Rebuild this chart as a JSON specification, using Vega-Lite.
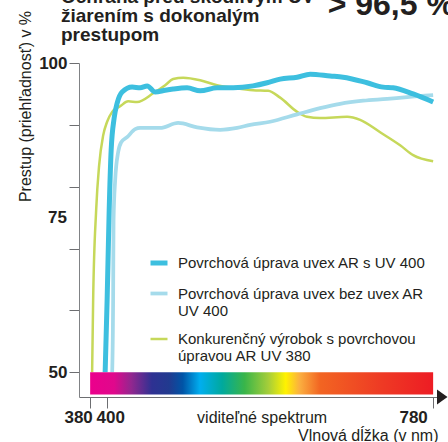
{
  "$schema": "https://vega.github.io/schema/vega-lite/v6.json",
  "width": 361,
  "height": 334,
  "autosize": {"type": "none"},
  "padding": {"left": 79, "top": 63, "right": 8, "bottom": 45},
  "background": "white",
  "config": {"view": {"stroke": null}, "font": "Liberation Sans"},
  "title": {
    "text": ["Ochrana pred škodlivým UV", "žiarením s dokonalým", "prestupom"],
    "anchor": "start",
    "frame": "group",
    "fontSize": 19,
    "fontWeight": "bold",
    "lineHeight": 19,
    "color": "#231f20",
    "font": "Liberation Sans",
    "offset": 0,
    "dx": -18,
    "dy": 56
  },
  "datasets": {
    "curves": [
      {"series": "Konkurenčný výrobok s povrchovou úpravou AR UV 380", "nm": 382.3, "t": 50},
      {"series": "Konkurenčný výrobok s povrchovou úpravou AR UV 380", "nm": 383.5, "t": 61.7},
      {"series": "Konkurenčný výrobok s povrchovou úpravou AR UV 380", "nm": 387, "t": 76.2},
      {"series": "Konkurenčný výrobok s povrchovou úpravou AR UV 380", "nm": 390.5, "t": 83.5},
      {"series": "Konkurenčný výrobok s povrchovou úpravou AR UV 380", "nm": 395.2, "t": 88.3},
      {"series": "Konkurenčný výrobok s povrchovou úpravou AR UV 380", "nm": 399.8, "t": 90.5},
      {"series": "Konkurenčný výrobok s povrchovou úpravou AR UV 380", "nm": 405.7, "t": 92.1},
      {"series": "Konkurenčný výrobok s povrchovou úpravou AR UV 380", "nm": 415, "t": 93.0},
      {"series": "Konkurenčný výrobok s povrchovou úpravou AR UV 380", "nm": 424.3, "t": 93.8},
      {"series": "Konkurenčný výrobok s povrchovou úpravou AR UV 380", "nm": 434.8, "t": 93.7},
      {"series": "Konkurenčný výrobok s povrchovou úpravou AR UV 380", "nm": 453.5, "t": 95.1},
      {"series": "Konkurenčný výrobok s povrchovou úpravou AR UV 380", "nm": 467.5, "t": 96.4},
      {"series": "Konkurenčný výrobok s povrchovou úpravou AR UV 380", "nm": 476.8, "t": 97.4},
      {"series": "Konkurenčný výrobok s povrchovou úpravou AR UV 380", "nm": 488.5, "t": 97.6},
      {"series": "Konkurenčný výrobok s povrchovou úpravou AR UV 380", "nm": 508.3, "t": 97.2},
      {"series": "Konkurenčný výrobok s povrchovou úpravou AR UV 380", "nm": 528, "t": 96.4},
      {"series": "Konkurenčný výrobok s povrchovou úpravou AR UV 380", "nm": 546.8, "t": 96.0},
      {"series": "Konkurenčný výrobok s povrchovou úpravou AR UV 380", "nm": 570, "t": 95.6},
      {"series": "Konkurenčný výrobok s povrchovou úpravou AR UV 380", "nm": 587.6, "t": 95.5},
      {"series": "Konkurenčný výrobok s povrchovou úpravou AR UV 380", "nm": 601.6, "t": 94.4},
      {"series": "Konkurenčný výrobok s povrchovou úpravou AR UV 380", "nm": 621.4, "t": 92.1},
      {"series": "Konkurenčný výrobok s povrchovou úpravou AR UV 380", "nm": 633, "t": 91.3},
      {"series": "Konkurenčný výrobok s povrchovou úpravou AR UV 380", "nm": 648, "t": 91.1},
      {"series": "Konkurenčný výrobok s povrchovou úpravou AR UV 380", "nm": 679.7, "t": 91.3},
      {"series": "Konkurenčný výrobok s povrchovou úpravou AR UV 380", "nm": 694.9, "t": 90.8},
      {"series": "Konkurenčný výrobok s povrchovou úpravou AR UV 380", "nm": 718.2, "t": 88.8},
      {"series": "Konkurenčný výrobok s povrchovou úpravou AR UV 380", "nm": 741.5, "t": 86.7},
      {"series": "Konkurenčný výrobok s povrchovou úpravou AR UV 380", "nm": 756.7, "t": 85.1},
      {"series": "Konkurenčný výrobok s povrchovou úpravou AR UV 380", "nm": 780, "t": 84.1},
      {"series": "Povrchová úprava uvex bez uvex AR UV 400", "nm": 405.7, "t": 50},
      {"series": "Povrchová úprava uvex bez uvex AR UV 400", "nm": 406.8, "t": 61.7},
      {"series": "Povrchová úprava uvex bez uvex AR UV 400", "nm": 407.3, "t": 74.6},
      {"series": "Povrchová úprava uvex bez uvex AR UV 400", "nm": 409.2, "t": 81.1},
      {"series": "Povrchová úprava uvex bez uvex AR UV 400", "nm": 412.7, "t": 85.6},
      {"series": "Povrchová úprava uvex bez uvex AR UV 400", "nm": 416.2, "t": 87.2},
      {"series": "Povrchová úprava uvex bez uvex AR UV 400", "nm": 423.1, "t": 88.0},
      {"series": "Povrchová úprava uvex bez uvex AR UV 400", "nm": 432.5, "t": 89.3},
      {"series": "Povrchová úprava uvex bez uvex AR UV 400", "nm": 438.3, "t": 89.5},
      {"series": "Povrchová úprava uvex bez uvex AR UV 400", "nm": 461.6, "t": 89.5},
      {"series": "Povrchová úprava uvex bez uvex AR UV 400", "nm": 482.6, "t": 90.3},
      {"series": "Povrchová úprava uvex bez uvex AR UV 400", "nm": 504.8, "t": 89.6},
      {"series": "Povrchová úprava uvex bez uvex AR UV 400", "nm": 531.6, "t": 89.2},
      {"series": "Povrchová úprava uvex bez uvex AR UV 400", "nm": 551.4, "t": 89.5},
      {"series": "Povrchová úprava uvex bez uvex AR UV 400", "nm": 566.6, "t": 90.0},
      {"series": "Povrchová úprava uvex bez uvex AR UV 400", "nm": 589.9, "t": 90.5},
      {"series": "Povrchová úprava uvex bez uvex AR UV 400", "nm": 621.4, "t": 91.7},
      {"series": "Povrchová úprava uvex bez uvex AR UV 400", "nm": 648.2, "t": 92.7},
      {"series": "Povrchová úprava uvex bez uvex AR UV 400", "nm": 671.5, "t": 93.4},
      {"series": "Povrchová úprava uvex bez uvex AR UV 400", "nm": 698.4, "t": 93.9},
      {"series": "Povrchová úprava uvex bez uvex AR UV 400", "nm": 726.4, "t": 94.2},
      {"series": "Povrchová úprava uvex bez uvex AR UV 400", "nm": 749.7, "t": 94.5},
      {"series": "Povrchová úprava uvex bez uvex AR UV 400", "nm": 780, "t": 94.8},
      {"series": "Povrchová úprava uvex AR s UV 400", "nm": 397.5, "t": 50},
      {"series": "Povrchová úprava uvex AR s UV 400", "nm": 399.8, "t": 61.7},
      {"series": "Povrchová úprava uvex AR s UV 400", "nm": 402.2, "t": 76.2},
      {"series": "Povrchová úprava uvex AR s UV 400", "nm": 404.5, "t": 85.9},
      {"series": "Povrchová úprava uvex AR s UV 400", "nm": 408, "t": 91.1},
      {"series": "Povrchová úprava uvex AR s UV 400", "nm": 411.5, "t": 93.5},
      {"series": "Povrchová úprava uvex AR s UV 400", "nm": 417.3, "t": 95.3},
      {"series": "Povrchová úprava uvex AR s UV 400", "nm": 429, "t": 96.1},
      {"series": "Povrchová úprava uvex AR s UV 400", "nm": 438.3, "t": 96.0},
      {"series": "Povrchová úprava uvex AR s UV 400", "nm": 446.5, "t": 96.3},
      {"series": "Povrchová úprava uvex AR s UV 400", "nm": 455.8, "t": 95.3},
      {"series": "Povrchová úprava uvex AR s UV 400", "nm": 467.5, "t": 95.6},
      {"series": "Povrchová úprava uvex AR s UV 400", "nm": 476.8, "t": 95.8},
      {"series": "Povrchová úprava uvex AR s UV 400", "nm": 493, "t": 96.0},
      {"series": "Povrchová úprava uvex AR s UV 400", "nm": 508.3, "t": 95.5},
      {"series": "Povrchová úprava uvex AR s UV 400", "nm": 528, "t": 96.0},
      {"series": "Povrchová úprava uvex AR s UV 400", "nm": 546.8, "t": 96.0},
      {"series": "Povrchová úprava uvex AR s UV 400", "nm": 570, "t": 96.3},
      {"series": "Povrchová úprava uvex AR s UV 400", "nm": 586.4, "t": 96.8},
      {"series": "Povrchová úprava uvex AR s UV 400", "nm": 601.6, "t": 97.4},
      {"series": "Povrchová úprava uvex AR s UV 400", "nm": 621.4, "t": 97.7},
      {"series": "Povrchová úprava uvex AR s UV 400", "nm": 636.6, "t": 98.2},
      {"series": "Povrchová úprava uvex AR s UV 400", "nm": 659.9, "t": 97.9},
      {"series": "Povrchová úprava uvex AR s UV 400", "nm": 675, "t": 97.7},
      {"series": "Povrchová úprava uvex AR s UV 400", "nm": 703, "t": 96.8},
      {"series": "Povrchová úprava uvex AR s UV 400", "nm": 721.7, "t": 96.1},
      {"series": "Povrchová úprava uvex AR s UV 400", "nm": 733.3, "t": 96.0},
      {"series": "Povrchová úprava uvex AR s UV 400", "nm": 756.7, "t": 95.0},
      {"series": "Povrchová úprava uvex AR s UV 400", "nm": 780, "t": 93.7}
    ],
    "spectrum": [{"from": 380, "to": 780, "low": 46.4, "high": 50}],
    "arrow": [{"nm": 788, "t": 46}],
    "headline": [{"nm": 657, "t": 107.8, "label": "> 96,5 %"}],
    "midlabel": [{"nm": 353, "t": 75, "label": "75"}]
  },
  "layer": [
    {
      "data": {"name": "curves"},
      "mark": {"type": "line", "interpolate": "monotone", "clip": false},
      "encoding": {
        "x": {
          "field": "nm", "type": "quantitative",
          "scale": {"domain": [367, 788], "nice": false, "zero": false},
          "axis": {
            "values": [380, 400, 580, 780],
            "labelExpr": "datum.value == 580 ? 'viditeľné spektrum' : datum.label",
            "labelFontWeight": {"condition": {"test": "datum.value == 580", "value": "normal"}, "value": "bold"},
            "labelFontSize": {"condition": {"test": "datum.value == 580", "value": 16}, "value": 17},
            "labelOffset": {"condition": [{"test": "datum.value == 380", "value": -12}, {"test": "datum.value == 400", "value": 3}, {"test": "datum.value == 780", "value": -20}], "value": 0},
            "labelColor": "#231f20",
            "labelOverlap": false,
            "labelFlush": false,
            "labelPadding": 1,
            "tickSize": 11,
            "tickOpacity": {"condition": {"test": "datum.value == 580", "value": 0}, "value": 1},
            "tickColor": "#6d6e71",
            "domainColor": "#6d6e71",
            "grid": false,
            "title": "Vlnová dĺžka (v nm)",
            "titleFontSize": 16,
            "titleFontWeight": "normal",
            "titleColor": "#231f20",
            "titleAnchor": "end",
            "titleAlign": "right",
            "titleBaseline": "alphabetic",
            "titleX": 359,
            "titleY": 43
          }
        },
        "y": {
          "field": "t", "type": "quantitative",
          "scale": {"domain": [46, 100], "nice": false, "zero": false},
          "axis": {
            "values": [50, 55, 60, 65, 70, 75, 80, 85, 90, 95, 100],
            "labelExpr": "datum.value == 50 || datum.value == 100 ? format(datum.value, 'd') : ''",
            "labelOverlap": false,
            "labelFlush": false,
            "labelFontWeight": "bold",
            "labelFontSize": 17,
            "labelColor": "#231f20",
            "labelPadding": 2,
            "tickSize": 10,
            "tickColor": "#6d6e71",
            "domainColor": "#808285",
            "grid": false,
            "title": "Prestup (priehľadnosť) v %",
            "titleFontSize": 16,
            "titleFontWeight": "normal",
            "titleColor": "#231f20",
            "titleAngle": -90,
            "titleAlign": "center",
            "titleBaseline": "alphabetic",
            "titleX": -49,
            "titleY": 43
          }
        },
        "color": {
          "field": "series", "type": "nominal",
          "scale": {
            "domain": ["Povrchová úprava uvex AR s UV 400", "Povrchová úprava uvex bez uvex AR UV 400", "Konkurenčný výrobok s povrchovou úpravou AR UV 380"],
            "range": ["#3dbfdf", "#a5dbeb", "#c6d85a"]
          },
          "legend": {
            "orient": "none", "legendX": 69, "legendY": 189, "title": null,
            "symbolType": "stroke", "symbolSize": 289,
            "labelFontSize": 15, "labelColor": "#231f20", "labelLimit": 0, "labelOffset": 8, "rowPadding": 10,
            "labelExpr": "datum.label == 'Povrchová úprava uvex bez uvex AR UV 400' ? ['Povrchová úprava uvex bez uvex AR', 'UV 400'] : datum.label == 'Konkurenčný výrobok s povrchovou úpravou AR UV 380' ? ['Konkurenčný výrobok s povrchovou', 'úpravou AR UV 380'] : datum.label"
          }
        },
        "strokeWidth": {
          "field": "series", "type": "nominal",
          "scale": {
            "domain": ["Povrchová úprava uvex AR s UV 400", "Povrchová úprava uvex bez uvex AR UV 400", "Konkurenčný výrobok s povrchovou úpravou AR UV 380"],
            "range": [5, 2.5, 2.5]
          },
          "legend": {
            "orient": "none", "legendX": 69, "legendY": 189, "title": null,
            "symbolType": "stroke", "symbolSize": 289,
            "labelFontSize": 15, "labelColor": "#231f20", "labelLimit": 0, "labelOffset": 8, "rowPadding": 10,
            "labelExpr": "datum.label == 'Povrchová úprava uvex bez uvex AR UV 400' ? ['Povrchová úprava uvex bez uvex AR', 'UV 400'] : datum.label == 'Konkurenčný výrobok s povrchovou úpravou AR UV 380' ? ['Konkurenčný výrobok s povrchovou', 'úpravou AR UV 380'] : datum.label"
          }
        }
      }
    },
    {
      "data": {"name": "spectrum"},
      "mark": {
        "type": "rect",
        "fill": {
          "gradient": "linear", "x1": 0, "y1": 0, "x2": 1, "y2": 0,
          "stops": [
            {"offset": 0, "color": "#ec008c"},
            {"offset": 0.07, "color": "#e0088c"},
            {"offset": 0.12, "color": "#92278f"},
            {"offset": 0.18, "color": "#2e3192"},
            {"offset": 0.23, "color": "#213a8f"},
            {"offset": 0.27, "color": "#0054a6"},
            {"offset": 0.32, "color": "#00aeef"},
            {"offset": 0.385, "color": "#00a99d"},
            {"offset": 0.45, "color": "#39b54a"},
            {"offset": 0.52, "color": "#a6ce39"},
            {"offset": 0.57, "color": "#fff200"},
            {"offset": 0.61, "color": "#fbb040"},
            {"offset": 0.67, "color": "#f26522"},
            {"offset": 0.85, "color": "#ee3a24"},
            {"offset": 1, "color": "#ed1c24"}
          ]
        }
      },
      "encoding": {
        "x": {"field": "from", "type": "quantitative"},
        "x2": {"field": "to"},
        "y": {"field": "low", "type": "quantitative"},
        "y2": {"field": "high"}
      }
    },
    {
      "data": {"name": "arrow"},
      "mark": {"type": "point", "shape": "M-0.4,-1L1,0L-0.4,1Z", "filled": true, "color": "#231f20", "opacity": 1, "size": 225, "clip": false},
      "encoding": {
        "x": {"field": "nm", "type": "quantitative"},
        "y": {"field": "t", "type": "quantitative"}
      }
    },
    {
      "data": {"name": "headline"},
      "mark": {"type": "text", "align": "left", "baseline": "alphabetic", "fontSize": 32, "fontWeight": "bold", "color": "#231f20", "font": "Liberation Sans", "clip": false},
      "encoding": {
        "x": {"field": "nm", "type": "quantitative"},
        "y": {"field": "t", "type": "quantitative"},
        "text": {"field": "label"}
      }
    },
    {
      "data": {"name": "midlabel"},
      "mark": {"type": "text", "align": "right", "baseline": "middle", "fontSize": 17, "fontWeight": "bold", "color": "#231f20", "font": "Liberation Sans", "clip": false},
      "encoding": {
        "x": {"field": "nm", "type": "quantitative"},
        "y": {"field": "t", "type": "quantitative"},
        "text": {"field": "label"}
      }
    }
  ]
}
